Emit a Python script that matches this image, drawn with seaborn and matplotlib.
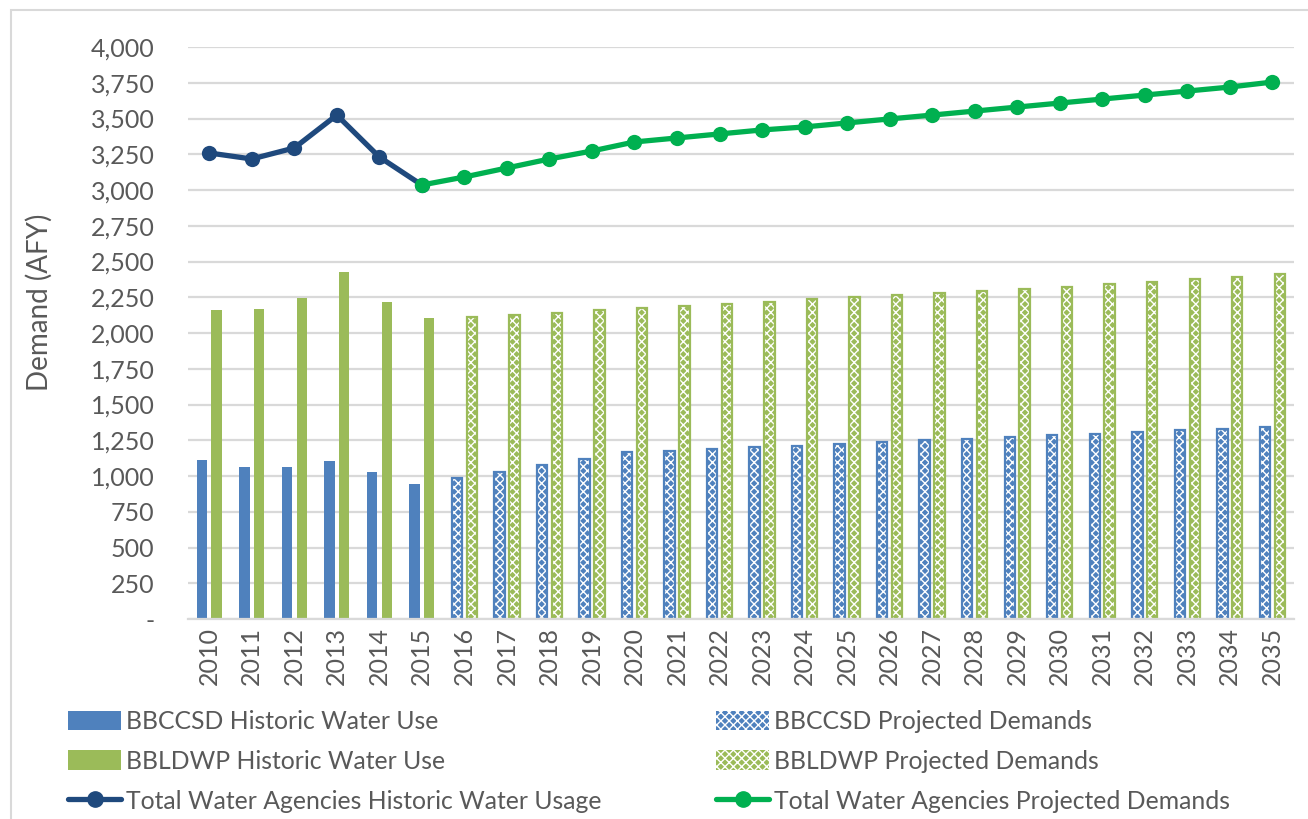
import numpy as np
import pandas as pd
import matplotlib
matplotlib.use("Agg")
import matplotlib.pyplot as plt
import matplotlib.patches as mpatches
from matplotlib.lines import Line2D
from matplotlib.ticker import FuncFormatter
import seaborn as sns

# %% DATA
years = list(range(2010, 2036))
first_projected = 2016

bbccsd = [1110, 1060, 1063, 1108, 1025, 945,
          985, 1030, 1080, 1120, 1165, 1175, 1190, 1200, 1210, 1225,
          1235, 1250, 1260, 1270, 1285, 1295, 1310, 1320, 1330, 1345]
bbldwp = [2160, 2165, 2245, 2430, 2220, 2105,
          2110, 2125, 2140, 2160, 2175, 2190, 2205, 2220, 2235, 2250,
          2265, 2280, 2295, 2310, 2325, 2345, 2360, 2375, 2395, 2410]

historic_years = [2010, 2011, 2012, 2013, 2014, 2015]
historic_total = [3259, 3217, 3294, 3524, 3231, 3035]

projected_years = list(range(2015, 2036))
projected_total = [3035, 3091, 3154, 3217, 3273, 3336, 3364, 3392, 3420, 3441,
                   3469, 3497, 3524, 3552, 3580, 3608, 3636, 3664, 3692, 3720, 3755]

blue = "#4F81BD"
green = "#9BBB59"
dark_blue = "#1F497D"
bright_green = "#00B050"
text_grey = "#595959"

# %% PLOT
sns.set_style("white")
plt.rcParams["font.family"] = ["Lato", "DejaVu Sans"]
plt.rcParams["hatch.linewidth"] = 1.0

df = pd.DataFrame({
    "year": years * 2,
    "agency": ["BBCCSD"] * len(years) + ["BBLDWP"] * len(years),
    "value": bbccsd + bbldwp,
})
df["year"] = df["year"].astype(str)

fig = plt.figure(figsize=(13.08, 8.19), dpi=100)
ax = fig.add_axes([0.1437, 0.2442, 0.8453, 0.6984])

sns.barplot(data=df, x="year", y="value", hue="agency",
            palette=[blue, green], width=0.7, gap=0.3,
            saturation=1, legend=False, ax=ax)

# projected bars get a white dotted pattern with a coloured outline
for bar_container, colour in zip(ax.containers, [blue, green]):
    for year, bar in zip(years, bar_container):
        if year >= first_projected:
            bar.set_hatch("xxxx")
            bar.set_edgecolor("white")
            bar.set_linewidth(0)
            x, w, h = bar.get_x(), bar.get_width(), bar.get_height()
            ax.add_patch(mpatches.Rectangle((x, 0), w, h, fill=False,
                                            edgecolor=colour, linewidth=1.6,
                                            zorder=bar.get_zorder() + 0.1))
        else:
            bar.set_edgecolor(colour)
            bar.set_linewidth(0)

pos = {y: i for i, y in enumerate(years)}
sns.lineplot(x=[pos[y] for y in historic_years], y=historic_total,
             color=dark_blue, linewidth=3.8, marker="o", markersize=11,
             markeredgewidth=0, ax=ax, zorder=5)
sns.lineplot(x=[pos[y] for y in projected_years], y=projected_total,
             color=bright_green, linewidth=3.8, marker="o", markersize=11,
             markeredgewidth=0, ax=ax, zorder=6)

ax.set_xlim(-0.5, len(years) - 0.5)
ax.set_ylim(0, 4000)
ax.set_yticks(np.arange(0, 4001, 250))
ax.yaxis.set_major_formatter(FuncFormatter(lambda v, p: "-" if v == 0 else f"{v:,.0f}"))
ax.grid(True, axis="y", color="#D9D9D9", linewidth=1.6)
ax.set_axisbelow(True)
for side in ["left", "right", "top"]:
    ax.spines[side].set_visible(False)
ax.spines["bottom"].set_color("#D9D9D9")
ax.spines["bottom"].set_linewidth(1.6)
ax.tick_params(axis="both", length=0, labelsize=18, colors=text_grey)
ax.tick_params(axis="x", pad=6)
ax.tick_params(axis="y", pad=24)
plt.setp(ax.get_xticklabels(), rotation=90)
ax.set_xlabel("")
ax.set_ylabel("Demand (AFY)", fontsize=20, color=text_grey)
ax.yaxis.set_label_coords(-0.122, 0.554)

# chart frame
fig.add_artist(mpatches.Rectangle((11 / 1308, -0.1), 1.2, 1 - 10 / 819 + 0.1,
                                  transform=fig.transFigure, fill=False,
                                  edgecolor="#D9D9D9", linewidth=1.5))

# %% LEGEND
h_left = [
    mpatches.Patch(facecolor=blue, edgecolor=blue, linewidth=0),
    mpatches.Patch(facecolor=green, edgecolor=green, linewidth=0),
    Line2D([], [], color=dark_blue, linewidth=3.8, marker="o", markersize=11),
]
l_left = ["BBCCSD Historic Water Use", "BBLDWP Historic Water Use",
          "Total Water Agencies Historic Water Usage"]
h_right = [
    mpatches.Patch(facecolor=blue, edgecolor="white", hatch="xxxx", linewidth=0),
    mpatches.Patch(facecolor=green, edgecolor="white", hatch="xxxx", linewidth=0),
    Line2D([], [], color=bright_green, linewidth=3.8, marker="o", markersize=11),
]
l_right = ["BBCCSD Projected Demands", "BBLDWP Projected Demands",
           "Total Water Agencies Projected Demands"]

for handles, labels, x0 in [(h_left, l_left, 68 / 1308), (h_right, l_right, 716 / 1308)]:
    leg = fig.legend(handles, labels, loc="upper left",
                     bbox_to_anchor=(x0, 1 - 710 / 819), frameon=False,
                     fontsize=17.8, handlelength=2.15, handleheight=0.85,
                     handletextpad=0.2, labelspacing=0.68, borderpad=0,
                     borderaxespad=0)
    for t in leg.get_texts():
        t.set_color(text_grey)

fig.savefig("out.png", dpi=100)
